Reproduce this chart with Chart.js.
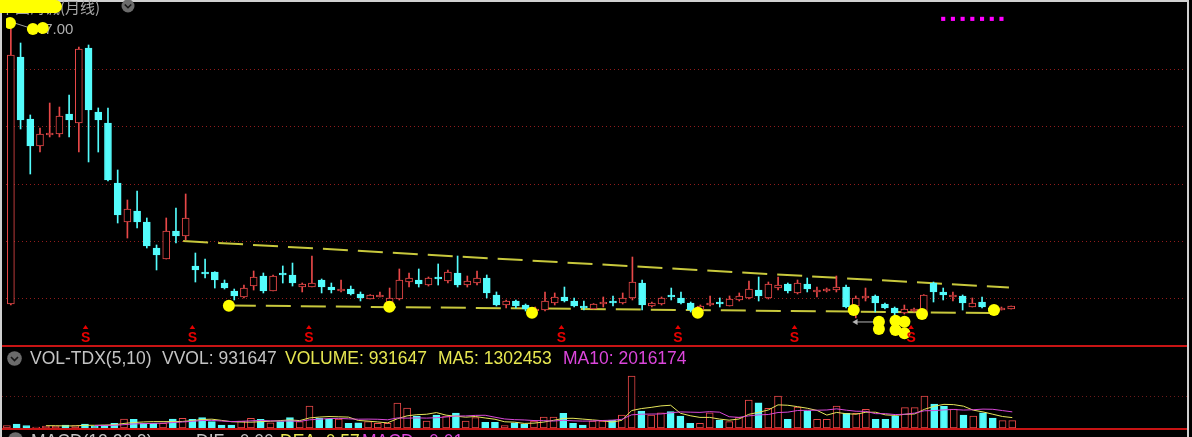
<!DOCTYPE html>
<html>
<head>
<meta charset="utf-8">
<title>月线</title>
<script src="https://cdn.jsdelivr.net/npm/chart.js@4.4.1/dist/chart.umd.min.js"></script>
<style>
  html, body { margin: 0; padding: 0; background: #000; overflow: hidden; }
  #wrap { position: relative; width: 1192px; height: 437px; background: #000; overflow: hidden; }
  canvas { position: absolute; left: 0; top: 0; }
  .t { position: absolute; white-space: nowrap; font-family: "Liberation Sans", Arial, sans-serif; font-size: 17.5px; line-height: 17.5px; }
  .box { position: absolute; }
</style>
</head>
<body>
<div id="wrap">
  <canvas id="priceChart" width="1192" height="437"></canvas>
  <canvas id="volChart" width="1192" height="437"></canvas>

  <!-- frame and panel separators -->
  <div class="box" style="left:0;top:0;width:1189px;height:2px;background:#d0d0d0"></div>
  <div class="box" style="left:0;top:0;width:2px;height:437px;background:#d0d0d0"></div>
  <div class="box" style="left:1187px;top:0;width:2px;height:437px;background:#d0d0d0"></div>
  <div class="box" style="left:2px;top:345px;width:1185px;height:2px;background:#c81414"></div>
  <div class="box" style="left:2px;top:428px;width:1185px;height:2px;background:#c81414"></div>

  <!-- title -->
  <div class="t" style="left:0;top:-1px;font-family:'Noto Sans CJK SC';font-size:15px;line-height:15px;color:#a8a8a8">中国海诚(月线)</div>
  <div class="box" style="left:0;top:0;width:62px;height:13px;background:#ffff00;border-radius:0 7px 7px 0"></div>
  <svg class="box" style="left:121px;top:-1px" width="14" height="14"><circle cx="7" cy="7" r="6.5" fill="#6b6b6b"/><polyline points="3.8,5.5 7,8.7 10.2,5.5" fill="none" stroke="#161616" stroke-width="1.6"/></svg>

  <!-- volume header -->
  <svg class="box" style="left:7px;top:351px" width="15" height="15"><circle cx="7.5" cy="7.5" r="7.3" fill="#6b6b6b"/><polyline points="4,6 7.5,9.5 11,6" fill="none" stroke="#161616" stroke-width="1.6"/></svg>
  <div class="t" style="left:30px;top:350px;color:#c4c4c4">VOL-TDX(5,10)</div>
  <div class="t" style="left:162px;top:350px;color:#c4c4c4">VVOL: 931647</div>
  <div class="t" style="left:285px;top:350px;color:#e6e650">VOLUME: 931647</div>
  <div class="t" style="left:438px;top:350px;color:#e6e650">MA5: 1302453</div>
  <div class="t" style="left:563px;top:350px;color:#dc46dc">MA10: 2016174</div>

  <!-- next panel header, mostly cut off -->
  <svg class="box" style="left:8px;top:432px" width="15" height="15"><circle cx="7.5" cy="7.5" r="7.3" fill="#6b6b6b"/></svg>
  <div class="t" style="left:31px;top:433px;color:#c4c4c4">MACD(12,26,9)</div>
  <div class="t" style="left:196px;top:433px;color:#c4c4c4">DIF: -0.00</div>
  <div class="t" style="left:280px;top:433px;color:#e6e650">DEA: 0.57</div>
  <div class="t" style="left:362px;top:433px;color:#dc46dc">MACD: -0.01</div>
</div>

<script>
// monthly candles, oldest first
const openP = [
  7.19, 41.68, 33.02, 29.25, 30.79, 30.92, 33.72, 32.46, 42.93, 34.00,
  32.46, 24.08, 18.64, 20.17, 18.64, 15.01, 13.47, 17.38, 16.68, 12.50,
  11.66, 11.66, 10.12, 9.00, 8.17, 9.70, 11.10, 9.00, 11.52, 11.24,
  9.56, 9.56, 10.54, 9.56, 9.00, 9.28, 8.59, 7.89, 8.17, 7.47,
  7.89, 10.26, 10.54, 9.84, 10.96, 10.40, 11.52, 9.84, 10.12, 10.82,
  8.45, 7.05, 7.61, 7.05, 6.21, 6.35, 7.33, 8.17, 7.61, 6.91,
  6.49, 7.19, 7.61, 7.33, 8.03, 10.12, 6.91, 7.19, 8.45, 8.03,
  7.33, 6.35, 7.05, 7.47, 6.91, 7.75, 8.03, 9.14, 8.03, 9.42,
  9.98, 8.73, 9.98, 8.87, 9.00, 9.14, 9.56, 6.91, 8.03, 8.31,
  7.19, 6.63, 5.93, 6.21, 5.93, 10.12, 8.87, 8.17, 8.31, 6.77,
  7.47, 6.63, 6.35, 6.49
];
const highP = [
  47.00, 43.63, 33.58, 31.76, 35.25, 34.69, 36.37, 43.07, 43.35, 34.56,
  34.56, 25.90, 21.71, 22.97, 19.20, 15.43, 19.20, 20.59, 22.55, 14.31,
  13.47, 11.70, 10.54, 9.28, 9.84, 11.80, 11.52, 11.24, 12.50, 12.91,
  10.12, 13.89, 10.68, 10.12, 10.54, 9.70, 8.87, 8.50, 8.87, 9.42,
  12.08, 11.52, 12.08, 10.96, 12.78, 11.94, 13.89, 11.10, 11.80, 11.24,
  8.87, 7.75, 7.75, 7.19, 6.77, 8.87, 8.73, 9.56, 8.03, 7.61,
  7.25, 8.17, 8.31, 8.73, 13.75, 10.54, 7.47, 8.17, 9.42, 8.87,
  7.47, 7.05, 8.31, 8.03, 8.31, 8.73, 10.40, 10.96, 10.26, 10.96,
  10.12, 10.54, 10.82, 9.56, 9.42, 11.10, 9.84, 8.31, 9.42, 8.45,
  7.33, 6.77, 7.05, 6.63, 8.50, 10.26, 9.42, 8.87, 8.45, 8.03,
  8.17, 6.91, 6.77, 6.91
];
const lowP = [
  7.05, 31.62, 25.34, 28.41, 30.51, 30.51, 30.51, 28.41, 27.02, 28.41,
  24.36, 18.50, 16.40, 17.80, 15.01, 11.94, 13.47, 15.71, 16.13, 10.26,
  10.82, 9.42, 9.28, 7.75, 8.03, 9.14, 8.73, 9.00, 10.12, 9.70,
  8.87, 9.56, 8.73, 8.73, 8.87, 8.45, 7.61, 7.89, 8.17, 7.33,
  7.75, 9.56, 9.56, 9.70, 9.84, 10.12, 9.56, 9.56, 9.84, 8.03,
  6.91, 6.63, 6.63, 6.21, 5.93, 6.21, 7.05, 7.47, 6.77, 6.35,
  6.49, 6.77, 6.91, 7.19, 7.75, 6.35, 6.77, 7.05, 7.75, 7.19,
  6.07, 6.21, 6.91, 6.77, 6.91, 7.61, 7.89, 7.61, 7.89, 9.14,
  8.73, 8.59, 8.87, 8.17, 8.87, 8.87, 6.63, 5.25, 7.61, 6.07,
  6.49, 5.65, 5.79, 6.07, 5.79, 7.47, 7.75, 7.61, 6.35, 6.77,
  6.63, 5.93, 6.35, 6.49
];
const closeP = [
  41.95, 32.88, 29.25, 30.92, 31.06, 33.44, 32.88, 42.79, 34.28, 32.88,
  24.50, 19.62, 20.45, 18.64, 15.29, 14.03, 17.38, 16.68, 19.20, 11.94,
  11.38, 10.54, 9.42, 8.31, 9.42, 10.96, 9.00, 11.10, 11.24, 10.12,
  9.98, 10.12, 9.56, 9.14, 9.28, 8.59, 8.03, 8.45, 8.45, 8.03,
  10.54, 10.82, 9.98, 10.82, 10.68, 11.66, 9.84, 10.40, 10.82, 8.73,
  7.05, 7.61, 6.91, 6.49, 6.49, 7.61, 8.17, 7.61, 6.91, 6.63,
  7.19, 7.47, 7.33, 8.03, 10.26, 7.05, 7.33, 8.03, 8.17, 7.33,
  6.35, 6.91, 7.33, 7.19, 7.89, 8.31, 9.28, 8.31, 9.98, 9.84,
  9.00, 10.12, 9.28, 9.14, 9.28, 9.56, 6.77, 8.03, 8.31, 7.33,
  6.63, 5.93, 6.49, 6.49, 8.45, 8.87, 8.45, 8.45, 7.33, 7.33,
  6.77, 6.21, 6.63, 6.91
];
const volume = [
  290000, 500000, 290000, 130000, 250000, 250000, 380000, 310000, 500000, 250000,
  380000, 590000, 1130000, 1090000, 590000, 590000, 590000, 1130000, 1210000, 1090000,
  1290000, 790000, 380000, 380000, 880000, 1210000, 1090000, 660000, 790000, 1290000,
  790000, 2750000, 1210000, 1130000, 1130000, 590000, 660000, 790000, 590000, 590000,
  3130000, 2500000, 1500000, 880000, 1630000, 1500000, 1880000, 880000, 1290000, 710000,
  710000, 290000, 660000, 500000, 880000, 1380000, 1380000, 1840000, 590000, 380000,
  880000, 880000, 1000000, 1630000, 6500000, 2130000, 1630000, 1910000, 2040000, 1500000,
  590000, 590000, 1910000, 1000000, 790000, 1340000, 3500000, 3160000, 2460000, 4000000,
  1090000, 2630000, 2160000, 1090000, 1090000, 2750000, 1840000, 1840000, 2340000, 1090000,
  1090000, 1500000, 2540000, 2540000, 4000000, 3000000, 2700000, 2350000, 1599475, 1500000,
  1900000, 1250000, 930618, 931647
];

// annotations, in (month index, price)
const gridPrices = [8, 16, 24, 32, 40];
const sellIdx = [8, 19, 31, 57, 69, 81, 93];
const upperTrend = [[17.74, 15.99], [102.77, 9.49]];
const lowerTrend = [[22.65, 6.98], [101.23, 5.93]];
const prevHighIdx = [96, 97, 98, 99, 100, 101, 102];
const yellowDots = [
  [-0.09, 46.42], [2.27, 45.58], [3.29, 45.72],
  [22.45, 6.96], [38.97, 6.82], [53.66, 5.98], [70.73, 5.98], [86.79, 6.35],
  [89.38, 4.72], [89.38, 3.70], [91.09, 4.86], [92.01, 4.72], [91.09, 3.56], [92.01, 3.10],
  [93.82, 5.79], [101.23, 6.35]
];
const arrowPts = [[87.0, 4.68], [88.9, 4.68]];
const volGrid = [4000000];

const UP = '#e84848';
const DOWN = '#54fcfc';
const idx = openP.map((_, i) => i);
const isUp = idx.map(i => closeP[i] >= openP[i]);

function movingAvg(arr, n) {
    const out = [];
    for (let i = n - 1; i < arr.length; i++) {
        let s = 0;
        for (let k = i - n + 1; k <= i; k++) s += arr[k];
        out.push({ x: i, y: s / n });
    }
    return out;
}

const xScale = { type: 'linear', min: -0.5, max: 121, display: false, offset: false, bounds: 'data' };

function dottedLines(ctx, area, yScale, values, color) {
    ctx.save();
    ctx.strokeStyle = color;
    ctx.lineWidth = 1;
    ctx.setLineDash([1, 3]);
    values.forEach(v => {
        const py = Math.round(yScale.getPixelForValue(v)) + 0.5;
        ctx.beginPath();
        ctx.moveTo(area.left, py);
        ctx.lineTo(area.right, py);
        ctx.stroke();
    });
    ctx.restore();
}

const priceDecor = {
    id: 'priceDecor',
    beforeDatasetsDraw(chart) {
        const { ctx, chartArea, scales: { x, y } } = chart;
        dottedLines(ctx, chartArea, y, gridPrices, '#921c1c');

        // highest price label with a leader line
        const hi = Math.max(...highP);
        const hiIdx = highP.indexOf(hi);
        const hx = x.getPixelForValue(hiIdx);
        const hy = y.getPixelForValue(hi);
        ctx.save();
        ctx.strokeStyle = '#9a9a9a';
        ctx.lineWidth = 1;
        ctx.beginPath();
        ctx.moveTo(hx, hy + 3);
        ctx.lineTo(hx + 22, hy + 10);
        ctx.stroke();
        ctx.fillStyle = '#b0b0b0';
        ctx.font = '15px "Liberation Sans", Arial, sans-serif';
        ctx.textBaseline = 'middle';
        ctx.fillText(hi.toFixed(2), hx + 25, hy + 11);
        ctx.restore();
    },
    afterDatasetsDraw(chart) {
        const { ctx, chartArea, scales: { x } } = chart;
        ctx.save();
        ctx.fillStyle = '#e80000';
        ctx.font = 'bold 14px "Liberation Sans", Arial, sans-serif';
        ctx.textAlign = 'center';
        ctx.textBaseline = 'alphabetic';
        sellIdx.forEach(i => {
            const sx = x.getPixelForValue(i) - 3;
            ctx.beginPath();
            ctx.moveTo(sx, chartArea.bottom - 18);
            ctx.lineTo(sx - 2.8, chartArea.bottom - 14);
            ctx.lineTo(sx + 2.8, chartArea.bottom - 14);
            ctx.closePath();
            ctx.fill();
            ctx.fillText('S', sx, chartArea.bottom - 1);
        });
        ctx.restore();
    }
};

const volDecor = {
    id: 'volDecor',
    beforeDatasetsDraw(chart) {
        dottedLines(chart.ctx, chart.chartArea, chart.scales.y, volGrid, '#6e1a1a');
    }
};

Chart.defaults.animation = false;

new Chart(document.getElementById('priceChart'), {
    type: 'bar',
    data: {
        datasets: [
            {
                type: 'line', order: 1,
                data: yellowDots.map(d => ({ x: d[0], y: d[1] })),
                showLine: false, pointRadius: 6, pointBorderWidth: 0,
                pointBackgroundColor: '#ffff00'
            },
            {
                type: 'line', order: 2,
                data: arrowPts.map(d => ({ x: d[0], y: d[1] })),
                borderColor: '#b4b4b4', borderWidth: 1,
                pointRadius: [3.5, 0], pointStyle: 'triangle', pointRotation: -90,
                pointBackgroundColor: '#b4b4b4', pointBorderWidth: 0
            },
            {
                type: 'line', order: 3,
                data: prevHighIdx.map(i => ({ x: i, y: Math.max(...highP) })),
                showLine: false, pointStyle: 'rect', pointRadius: 2.9, pointBorderWidth: 0,
                pointBackgroundColor: '#ff00ff'
            },
            {
                // candle bodies
                order: 4,
                data: idx.map(i => ({ x: i, y: [openP[i], closeP[i]] })),
                backgroundColor: idx.map(i => isUp[i] ? '#000000' : DOWN),
                borderColor: idx.map(i => isUp[i] ? UP : DOWN),
                borderWidth: 1, borderSkipped: false,
                barThickness: 7, minBarLength: 1, grouped: false
            },
            {
                // shadows
                order: 5,
                data: idx.map(i => ({ x: i, y: [lowP[i], highP[i]] })),
                backgroundColor: idx.map(i => isUp[i] ? UP : DOWN),
                borderWidth: 0, barThickness: 1, minBarLength: 1, grouped: false
            },
            {
                type: 'line', order: 6,
                data: upperTrend.map(d => ({ x: d[0], y: d[1] })),
                borderColor: '#c8c83c', borderWidth: 2, borderDash: [25, 10], pointRadius: 0
            },
            {
                type: 'line', order: 7,
                data: lowerTrend.map(d => ({ x: d[0], y: d[1] })),
                borderColor: '#c8c83c', borderWidth: 2, borderDash: [25, 10], pointRadius: 0
            }
        ]
    },
    options: {
        responsive: false,
        events: [],
        layout: { padding: { left: 2, right: 4, top: 12, bottom: 94 } },
        plugins: { legend: { display: false }, tooltip: { enabled: false } },
        scales: {
            x: xScale,
            y: { type: 'linear', min: 1.745, max: 47.958, display: false, beginAtZero: false, bounds: 'data' }
        }
    },
    plugins: [priceDecor]
});

new Chart(document.getElementById('volChart'), {
    type: 'bar',
    data: {
        datasets: [
            {
                type: 'line', order: 1,
                data: movingAvg(volume, 10),
                borderColor: '#d848d8', borderWidth: 1, pointRadius: 0
            },
            {
                type: 'line', order: 2,
                data: movingAvg(volume, 5),
                borderColor: '#e6e65a', borderWidth: 1, pointRadius: 0
            },
            {
                order: 3,
                data: idx.map(i => ({ x: i, y: volume[i] })),
                backgroundColor: idx.map(i => isUp[i] ? '#000000' : DOWN),
                borderColor: idx.map(i => isUp[i] ? UP : DOWN),
                borderWidth: 1, borderSkipped: false,
                barThickness: 7, grouped: false
            }
        ]
    },
    options: {
        responsive: false,
        events: [],
        layout: { padding: { left: 2, right: 4, top: 364, bottom: 9 } },
        plugins: { legend: { display: false }, tooltip: { enabled: false } },
        scales: {
            x: xScale,
            y: { type: 'linear', min: 0, max: 8000000, display: false, beginAtZero: true, bounds: 'data' }
        }
    },
    plugins: [volDecor]
});
</script>
</body>
</html>
